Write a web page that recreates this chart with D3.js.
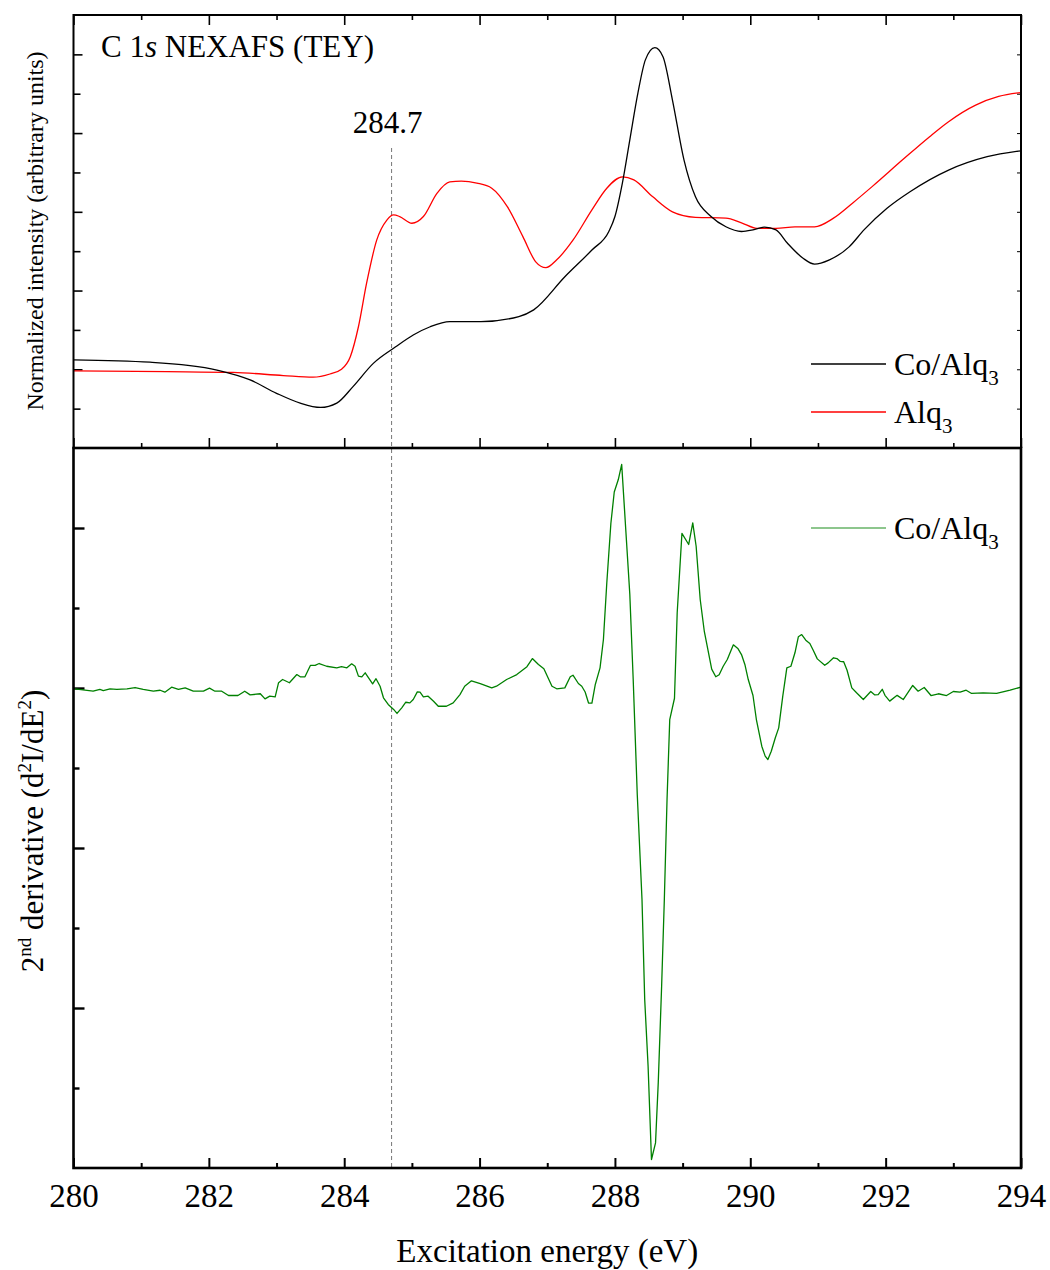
<!DOCTYPE html>
<html>
<head>
<meta charset="utf-8">
<script src="https://cdn.jsdelivr.net/npm/d3@7"></script>
<style>
  body { margin: 0; background: #fff; }
  text { font-family: "Liberation Serif", "Times New Roman", serif; fill: #000; }
</style>
</head>
<body>
<svg id="chart" width="1050" height="1270"></svg>
<script>
// ---- Data ---------------------------------------------------------------
// Excitation-energy axis (eV)
const energyMajorTicks = [280, 282, 284, 286, 288, 290, 292, 294];
const energyMinorTicks = [281, 283, 285, 287, 289, 291, 293];

// C 1s NEXAFS (TEY), Co/Alq3 film (normalized, arbitrary units)
const coAlqEnergy = [280.00, 281.13, 282.12, 282.61, 283.00, 283.35, 283.65, 283.89, 284.13, 284.43,
  284.76, 285.02, 285.27, 285.56, 286.02, 286.58, 286.80, 287.26, 287.66, 287.91,
  288.00, 288.11, 288.22, 288.34, 288.45, 288.59, 288.71, 288.85, 289.02, 289.19,
  289.42, 289.64, 289.87, 290.04, 290.21, 290.38, 290.55, 290.78, 290.95, 291.17,
  291.46, 291.68, 292.02, 292.36, 292.93, 293.50, 294.00];
const coAlqIntensity = [2.24, 2.18, 1.98, 1.73, 1.39, 1.14, 1.03, 1.14, 1.56, 2.15,
  2.57, 2.87, 3.08, 3.21, 3.21, 3.34, 3.51, 4.35, 5.03, 5.50,
  5.88, 6.73, 7.83, 9.02, 9.86, 10.17, 9.94, 8.84, 7.32, 6.38,
  5.88, 5.62, 5.50, 5.54, 5.61, 5.54, 5.20, 4.82, 4.67, 4.78,
  5.11, 5.54, 6.09, 6.51, 7.06, 7.40, 7.55];

// C 1s NEXAFS (TEY), pristine Alq3 film
const alqEnergy = [280.00, 281.38, 282.36, 283.10, 283.54, 283.79, 283.96, 284.09, 284.21, 284.33,
  284.48, 284.63, 284.73, 284.82, 285.00, 285.17, 285.37, 285.56, 285.73, 285.96,
  286.18, 286.41, 286.64, 286.83, 286.98, 287.14, 287.38, 287.66, 287.88, 288.11,
  288.28, 288.56, 288.85, 289.19, 289.64, 289.87, 290.10, 290.38, 290.66, 290.95,
  291.23, 291.51, 291.80, 292.25, 292.65, 292.93, 293.33, 293.67, 294.00];
const alqIntensity = [1.96, 1.94, 1.92, 1.84, 1.80, 1.88, 2.00, 2.32, 3.08, 4.18,
  5.28, 5.79, 5.92, 5.88, 5.71, 5.88, 6.47, 6.76, 6.78, 6.73,
  6.60, 6.13, 5.37, 4.73, 4.58, 4.78, 5.28, 6.05, 6.60, 6.89,
  6.81, 6.38, 6.00, 5.86, 5.84, 5.72, 5.58, 5.58, 5.62, 5.62,
  5.84, 6.22, 6.64, 7.32, 7.91, 8.29, 8.71, 8.93, 9.03];

// Second derivative d2I/dE2 of the Co/Alq3 spectrum (arbitrary units)
const derivEnergy = [280.02, 280.29, 280.39, 280.44, 280.54, 280.64, 280.79, 280.91, 281.03, 281.18,
  281.28, 281.35, 281.45, 281.55, 281.65, 281.77, 281.92, 282.01, 282.09, 282.19,
  282.29, 282.43, 282.53, 282.61, 282.76, 282.83, 282.90, 282.98, 283.03, 283.09,
  283.19, 283.30, 283.35, 283.42, 283.50, 283.57, 283.63, 283.74, 283.89, 283.96,
  284.04, 284.11, 284.16, 284.21, 284.26, 284.31, 284.36, 284.42, 284.47, 284.53,
  284.58, 284.65, 284.73, 284.78, 284.85, 284.91, 284.97, 285.02, 285.08, 285.12,
  285.17, 285.24, 285.32, 285.39, 285.51, 285.61, 285.71, 285.78, 285.88, 286.01,
  286.18, 286.25, 286.40, 286.55, 286.70, 286.78, 286.87, 286.95, 287.07, 287.14,
  287.26, 287.34, 287.38, 287.46, 287.51, 287.56, 287.61, 287.66, 287.71, 287.78,
  287.83, 287.88, 287.94, 287.99, 288.05, 288.10, 288.16, 288.22, 288.27, 288.33,
  288.40, 288.44, 288.49, 288.54, 288.60, 288.64, 288.69, 288.73, 288.77, 288.81,
  288.88, 288.92, 288.99, 289.09, 289.15, 289.20, 289.26, 289.32, 289.43, 289.49,
  289.54, 289.60, 289.66, 289.75, 289.82, 289.87, 289.92, 289.97, 290.04, 290.09,
  290.17, 290.22, 290.26, 290.31, 290.37, 290.42, 290.48, 290.54, 290.60, 290.66,
  290.71, 290.76, 290.82, 290.88, 290.93, 290.99, 291.10, 291.15, 291.23, 291.28,
  291.33, 291.38, 291.43, 291.50, 291.57, 291.67, 291.78, 291.84, 291.89, 291.95,
  291.99, 292.06, 292.17, 292.26, 292.40, 292.48, 292.57, 292.67, 292.78, 292.90,
  293.00, 293.10, 293.19, 293.27, 293.44, 293.64, 293.84, 294.00];
const derivValue = [-0.05, -0.20, -0.09, -0.16, -0.05, -0.09, -0.05, 0.03, -0.08, -0.20,
  -0.14, -0.26, 0.05, -0.09, 0.01, -0.20, -0.20, -0.01, -0.20, -0.20,
  -0.47, -0.47, -0.20, -0.43, -0.36, -0.68, -0.51, -0.55, 0.33, 0.53,
  0.33, 0.84, 0.70, 0.70, 1.41, 1.41, 1.53, 1.36, 1.26, 1.33,
  1.26, 1.51, 1.36, 0.74, 0.70, 0.95, 0.64, 0.26, 0.58, 0.11,
  -0.61, -1.03, -1.34, -1.59, -1.24, -0.89, -0.93, -0.72, -0.24, -0.26,
  -0.55, -0.51, -0.83, -1.14, -1.14, -0.93, -0.41, 0.11, 0.45, 0.28,
  0.01, 0.11, 0.53, 0.84, 1.33, 1.84, 1.47, 1.20, 0.11, -0.05,
  0.01, 0.70, 0.80, 0.28, 0.11, -0.25, -0.94, -0.94, 0.22, 1.26,
  3.03, 6.58, 10.28, 12.25, 13.03, 13.97, 9.91, 5.84, 0.53, -6.66,
  -13.22, -19.47, -23.64, -29.47, -28.43, -24.68, -18.64, -13.22, -6.97, -1.97,
  -0.64, 4.70, 9.66, 8.97, 10.32, 8.86, 5.53, 3.56, 1.18, 0.70,
  0.83, 1.36, 1.78, 2.70, 2.45, 2.09, 1.47, 0.53, -0.47, -1.97,
  -3.64, -4.26, -4.47, -3.95, -3.11, -2.49, -0.51, 1.26, 1.36, 2.20,
  3.20, 3.34, 2.99, 2.78, 2.36, 1.82, 1.42, 1.57, 1.89, 1.84,
  1.66, 1.64, 1.11, 0.01, -0.30, -0.72, -0.22, -0.43, -0.41, -0.08,
  -0.46, -0.82, -0.46, -0.72, 0.16, -0.20, 0.03, -0.47, -0.36, -0.47,
  -0.22, -0.26, -0.14, -0.34, -0.30, -0.34, -0.14, 0.06];

// Reference energy marked by the dashed guide line
const referenceEnergy = 284.7;

// ---- Layout -------------------------------------------------------------
const plotLeft = 73.5, plotRight = 1021;
const topPanel = { y0: 15, y1: 448 };
const bottomPanel = { y0: 448, y1: 1168 };

const svg = d3.select("#chart");

const x = d3.scaleLinear().domain([280, 294]).range([plotLeft, plotRight]);
const yTop = d3.scaleLinear().domain([0, 11]).range([topPanel.y1, topPanel.y0]);
const yBottom = d3.scaleLinear().domain([-30, 15]).range([bottomPanel.y1, bottomPanel.y0]);

const zip = (a, b) => a.map((v, i) => ({ e: v, v: b[i] }));

// ---- Axes helpers -------------------------------------------------------
function addAxis(axis, tx, ty, strokeW) {
  const g = svg.append("g").attr("transform", `translate(${tx},${ty})`).call(axis);
  g.attr("font-family", null);
  g.select(".domain").remove();
  g.selectAll(".tick line").attr("stroke", "#000").attr("stroke-width", strokeW);
  return g;
}

// Top panel: x ticks on top edge (pointing down) and bottom edge (pointing up)
addAxis(d3.axisBottom(x).tickValues(energyMajorTicks).tickSize(10).tickFormat(""), 0, topPanel.y0, 1.6);
addAxis(d3.axisBottom(x).tickValues(energyMinorTicks).tickSize(5).tickFormat(""), 0, topPanel.y0, 1.6);
addAxis(d3.axisTop(x).tickValues(energyMajorTicks).tickSize(10).tickFormat(""), 0, topPanel.y1, 1.6);
addAxis(d3.axisTop(x).tickValues(energyMinorTicks).tickSize(5).tickFormat(""), 0, topPanel.y1, 1.6);

// Top panel: y ticks, inward on the left, small on the right
addAxis(d3.axisRight(yTop).tickValues([2, 4, 6, 8, 10]).tickSize(9).tickFormat(""), plotLeft, 0, 1.6);
addAxis(d3.axisRight(yTop).tickValues([1, 3, 5, 7, 9]).tickSize(7).tickFormat(""), plotLeft, 0, 1.6);
addAxis(d3.axisLeft(yTop).tickValues(d3.range(1, 11)).tickSize(4).tickFormat(""), plotRight, 0, 1);

// Bottom panel: x axis with labels, ticks pointing inward
const xBottomMajor = d3.axisBottom(x).tickValues(energyMajorTicks)
  .tickSizeInner(-10).tickSizeOuter(0).tickPadding(16).tickFormat(d3.format("d"));
const gxb = addAxis(xBottomMajor, 0, bottomPanel.y1, 2);
gxb.selectAll(".tick text").attr("font-size", 33).attr("fill", "#000");
addAxis(d3.axisBottom(x).tickValues(energyMinorTicks).tickSizeInner(-5).tickSizeOuter(0).tickFormat(""), 0, bottomPanel.y1, 2);

// Bottom panel: y ticks on the left
addAxis(d3.axisRight(yBottom).tickValues([10, 0, -10, -20]).tickSize(11).tickFormat(""), plotLeft, 0, 2.4);
addAxis(d3.axisRight(yBottom).tickValues([5, -5, -15, -25]).tickSize(6).tickFormat(""), plotLeft, 0, 2.4);

// ---- Reference guide line ------------------------------------------------
svg.append("line")
  .attr("x1", x(referenceEnergy)).attr("x2", x(referenceEnergy))
  .attr("y1", 148).attr("y2", bottomPanel.y1)
  .attr("stroke", "#777").attr("stroke-width", 1).attr("stroke-dasharray", "4,3");
svg.append("text")
  .attr("x", x(referenceEnergy) - 4).attr("y", 133)
  .attr("text-anchor", "middle").attr("font-size", 31)
  .text(d3.format(".1f")(referenceEnergy));

// ---- Curves ---------------------------------------------------------------
const smoothTop = d3.line().x(d => x(d.e)).y(d => yTop(d.v)).curve(d3.curveMonotoneX);
const rawBottom = d3.line().x(d => x(d.e)).y(d => yBottom(d.v));

svg.append("path").datum(zip(alqEnergy, alqIntensity))
  .attr("d", smoothTop).attr("fill", "none").attr("stroke", "#ff0000").attr("stroke-width", 1.3);
svg.append("path").datum(zip(coAlqEnergy, coAlqIntensity))
  .attr("d", smoothTop).attr("fill", "none").attr("stroke", "#000").attr("stroke-width", 1.3);
svg.append("path").datum(zip(derivEnergy, derivValue))
  .attr("d", rawBottom).attr("fill", "none").attr("stroke", "#008000").attr("stroke-width", 1.3)
  .attr("stroke-linejoin", "round");

// ---- Frames -----------------------------------------------------------------
svg.append("rect").attr("x", plotLeft).attr("y", topPanel.y0)
  .attr("width", plotRight - plotLeft).attr("height", topPanel.y1 - topPanel.y0)
  .attr("fill", "none").attr("stroke", "#000").attr("stroke-width", 2);
svg.append("rect").attr("x", plotLeft).attr("y", bottomPanel.y0)
  .attr("width", plotRight - plotLeft).attr("height", bottomPanel.y1 - bottomPanel.y0)
  .attr("fill", "none").attr("stroke", "#000").attr("stroke-width", 2.6);

// ---- Texts --------------------------------------------------------------------
const title = svg.append("text").attr("x", 101).attr("y", 57).attr("font-size", 31);
title.append("tspan").text("C 1");
title.append("tspan").attr("font-style", "italic").text("s");
title.append("tspan").text(" NEXAFS (TEY)");

svg.append("text")
  .attr("transform", "translate(43,231) rotate(-90)")
  .attr("text-anchor", "middle").attr("font-size", 24)
  .text("Normalized intensity (arbitrary units)");

const yl2 = svg.append("text")
  .attr("transform", "translate(43,831) rotate(-90)")
  .attr("text-anchor", "middle").attr("font-size", 31);
yl2.append("tspan").text("2");
yl2.append("tspan").attr("font-size", 19).attr("dy", -12).text("nd");
yl2.append("tspan").attr("dy", 12).text(" derivative (d");
yl2.append("tspan").attr("font-size", 19).attr("dy", -12).text("2");
yl2.append("tspan").attr("dy", 12).text("I/dE");
yl2.append("tspan").attr("font-size", 19).attr("dy", -12).text("2");
yl2.append("tspan").attr("dy", 12).text(")");

svg.append("text")
  .attr("x", (plotLeft + plotRight) / 2).attr("y", 1262)
  .attr("text-anchor", "middle").attr("font-size", 33)
  .text("Excitation energy (eV)");

// ---- Legends -------------------------------------------------------------------
function legendEntry(y, color, opacity, base) {
  svg.append("line").attr("x1", 811).attr("x2", 886).attr("y1", y).attr("y2", y)
    .attr("stroke", color).attr("stroke-width", 1.4).attr("stroke-opacity", opacity);
  const t = svg.append("text").attr("x", 894).attr("y", y + 11).attr("font-size", 32);
  t.append("tspan").text(base);
  t.append("tspan").attr("font-size", 21).attr("dy", 10).text("3");
}
legendEntry(364, "#000", 1, "Co/Alq");
legendEntry(412, "#ff0000", 1, "Alq");
legendEntry(528, "#008000", 0.6, "Co/Alq");
</script>
</body>
</html>
